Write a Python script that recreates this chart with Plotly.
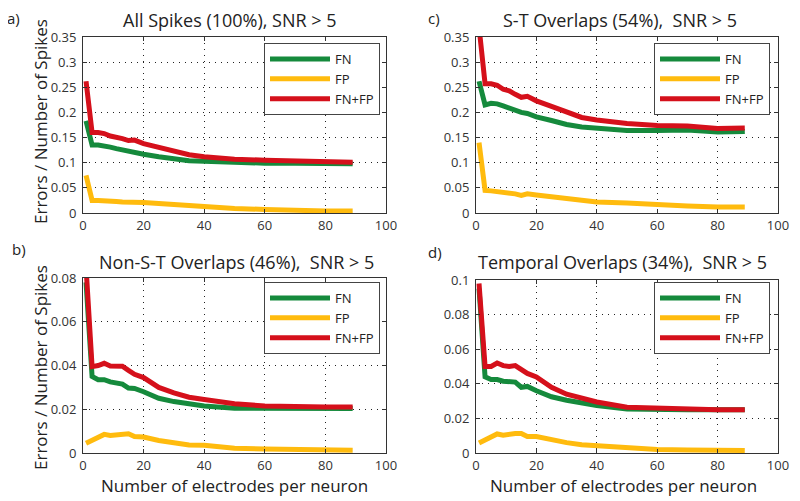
import plotly.graph_objects as go

# ---------------- data ----------------
electrodes = [1, 3, 5, 7, 9, 11, 13, 15, 17, 20, 25, 30, 35, 40, 50, 60, 70, 80, 89]

a_fn = [0.183, 0.135, 0.135, 0.134, 0.131, 0.128, 0.125, 0.123, 0.121, 0.117, 0.112, 0.108, 0.104, 0.103, 0.100, 0.099, 0.099, 0.098, 0.098]
a_fp = [0.075, 0.025, 0.025, 0.025, 0.024, 0.023, 0.022, 0.021, 0.021, 0.021, 0.019, 0.017, 0.014, 0.012, 0.009, 0.007, 0.005, 0.004, 0.004]
a_sum = [0.262, 0.160, 0.160, 0.158, 0.153, 0.151, 0.148, 0.144, 0.145, 0.138, 0.130, 0.122, 0.116, 0.112, 0.107, 0.105, 0.104, 0.102, 0.101]

c_fn = [0.262, 0.215, 0.218, 0.217, 0.213, 0.208, 0.204, 0.200, 0.198, 0.191, 0.184, 0.176, 0.171, 0.168, 0.164, 0.164, 0.165, 0.161, 0.162]
c_fp = [0.140, 0.045, 0.044, 0.043, 0.040, 0.041, 0.038, 0.035, 0.038, 0.036, 0.033, 0.029, 0.025, 0.022, 0.020, 0.016, 0.014, 0.012, 0.012]
c_sum = [0.370, 0.257, 0.257, 0.254, 0.246, 0.243, 0.236, 0.230, 0.232, 0.223, 0.212, 0.200, 0.190, 0.185, 0.178, 0.174, 0.173, 0.168, 0.169]

b_fn = [0.078, 0.035, 0.0335, 0.0335, 0.0325, 0.032, 0.0315, 0.0297, 0.0295, 0.028, 0.025, 0.0235, 0.0225, 0.0215, 0.0205, 0.0203, 0.0203, 0.0203, 0.0203]
b_fp = [0.0045, 0.006, 0.0075, 0.0085, 0.008, 0.0083, 0.0086, 0.0088, 0.0075, 0.0073, 0.0057, 0.0046, 0.0037, 0.0035, 0.0022, 0.0018, 0.0015, 0.0013, 0.0013]
b_sum = [0.085, 0.0395, 0.040, 0.041, 0.0398, 0.0395, 0.0397, 0.0378, 0.036, 0.0345, 0.030, 0.0275, 0.0255, 0.0245, 0.0225, 0.0215, 0.021, 0.021, 0.021]

d_fn = [0.095, 0.044, 0.0425, 0.0425, 0.0415, 0.041, 0.041, 0.038, 0.0385, 0.036, 0.0325, 0.0305, 0.029, 0.0275, 0.0255, 0.025, 0.025, 0.025, 0.025]
d_fp = [0.0058, 0.0078, 0.0095, 0.011, 0.0103, 0.011, 0.0113, 0.0113, 0.0095, 0.0095, 0.0075, 0.006, 0.0048, 0.0043, 0.0027, 0.002, 0.0017, 0.0015, 0.0015]
d_sum = [0.098, 0.050, 0.050, 0.052, 0.0505, 0.050, 0.0505, 0.048, 0.046, 0.044, 0.038, 0.034, 0.0315, 0.0295, 0.0265, 0.0258, 0.025, 0.025, 0.025]

series_names = ["FN", "FP", "FN+FP"]
panel_titles = ["All Spikes (100%), SNR > 5", "S-T Overlaps (54%),  SNR > 5",
                "Non-S-T Overlaps (46%),  SNR > 5", "Temporal Overlaps (34%),  SNR > 5"]
panel_letters = ["a)", "c)", "b)", "d)"]
y_ranges = [0.35, 0.35, 0.08, 0.1]
y_dticks = [0.05, 0.05, 0.02, 0.02]
x_ticks = [0, 20, 40, 60, 80, 100]
y_title = "Errors / Number of Spikes"
x_title = "Number of electrodes per neuron"

# ---------------- styling ----------------
OFF = 8                      # page body margin offset
W, H = 800 - OFF, 501 - OFF
FONT = "Open Sans"
colors = ["#158a3c", "#ffbb0e", "#d5101b"]
panels = [(a_fn, a_fp, a_sum), (c_fn, c_fp, c_sum), (b_fn, b_fp, b_sum), (d_fn, d_fp, d_sum)]
# pixel boxes in screen coords: left, right, top, bottom
boxes = [(83, 386, 37, 213), (476, 778, 37, 213), (83, 386, 278, 453), (476, 778, 280, 453)]
legend_pos = [(380, 43), (770, 43), (380, 282), (770, 282)]
title_pos = [(230, 20), (620, 20), (236, 262), (622, 262)]
letter_pos = [(13, 18), (434, 18), (19, 249), (435, 252)]

def px(x):
    return (x - OFF) / W

def py(y):
    return 1 - (y - OFF) / H

fig = go.Figure()
layout = dict(width=W, height=H, margin=dict(l=0, r=0, t=0, b=0, pad=0, autoexpand=False),
              paper_bgcolor="white", plot_bgcolor="white",
              font=dict(family=FONT, color="#222"), showlegend=True)
annotations = []

for i, (vals, box) in enumerate(zip(panels, boxes)):
    n = i + 1
    xa = "x" if n == 1 else f"x{n}"
    ya = "y" if n == 1 else f"y{n}"
    lg = "legend" if n == 1 else f"legend{n}"
    for name, v, col in zip(series_names, vals, colors):
        fig.add_trace(go.Scatter(x=electrodes, y=v, mode="lines", name=name,
                                 line=dict(color=col, width=5), xaxis=xa, yaxis=ya,
                                 legend=lg))
    l, r, t, b = box
    axcommon = dict(showline=True, linecolor="#333", linewidth=1, mirror="ticks",
                    ticks="inside", ticklen=4, tickcolor="#333",
                    showgrid=True, gridcolor="#222", gridwidth=1, griddash="1px,5px",
                    zeroline=False, automargin=False,
                    tickfont=dict(size=13, color="#333", family=FONT))
    layout["xaxis" if n == 1 else f"xaxis{n}"] = dict(
        domain=[px(l), px(r)], anchor=ya, range=[0, 100], tickvals=x_ticks, **axcommon)
    layout["yaxis" if n == 1 else f"yaxis{n}"] = dict(
        domain=[py(b), py(t)], anchor=xa, range=[0, y_ranges[i]], dtick=y_dticks[i],
        tick0=0, ticklabelstandoff=3, **axcommon)
    lx, ly = legend_pos[i]
    layout[lg] = dict(x=px(lx), y=py(ly), xanchor="right", yanchor="top",
                      bgcolor="white", bordercolor="#444", borderwidth=1,
                      font=dict(size=13, family=FONT, color="#222"),
                      itemwidth=60, tracegroupgap=0)
    tx, ty = title_pos[i]
    annotations.append(dict(text=panel_titles[i], x=px(tx), y=py(ty), xref="paper", yref="paper",
                            showarrow=False, xanchor="center", yanchor="middle",
                            font=dict(size=18, family=FONT, color="#222")))
    lx2, ly2 = letter_pos[i]
    annotations.append(dict(text=panel_letters[i], x=px(lx2), y=py(ly2), xref="paper", yref="paper",
                            showarrow=False, xanchor="center", yanchor="middle",
                            font=dict(size=15, family=FONT, color="#222")))

for cy in (122, 368):
    annotations.append(dict(text=y_title, x=px(40), y=py(cy), xref="paper", yref="paper",
                            showarrow=False, textangle=-90, xanchor="center", yanchor="middle",
                            font=dict(size=17, family=FONT, color="#222")))
for cx in (234, 623):
    annotations.append(dict(text=x_title, x=px(cx), y=py(485), xref="paper", yref="paper",
                            showarrow=False, xanchor="center", yanchor="middle",
                            font=dict(size=17, family=FONT, color="#222")))

layout["annotations"] = annotations
fig.update_layout(**layout)
fig.write_html("out.html")
